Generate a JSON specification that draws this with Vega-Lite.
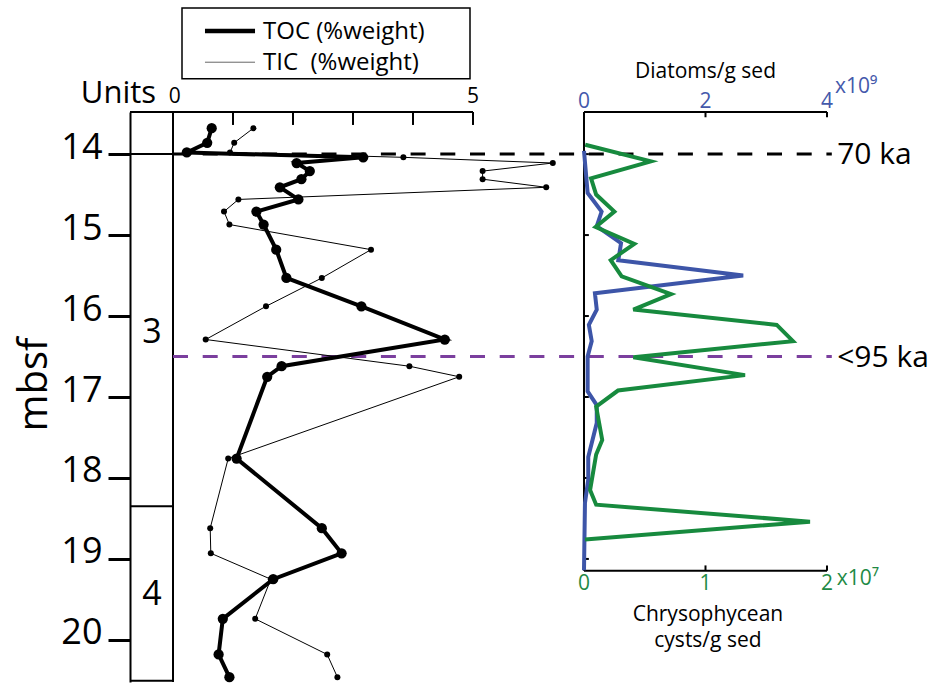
{
  "$schema": "https://vega.github.io/schema/vega-lite/v6.json",
  "background": "white",
  "autosize": "none",
  "padding": {"left": 130, "top": 112, "right": 106, "bottom": 4},
  "width": 697,
  "height": 570,
  "config": {"view": {"stroke": null}, "font": "Open Sans", "text": {"font": "Open Sans"}},
  "datasets": {
    "carbon": [
      {"depth": 13.68, "TOC": 0.645, "TIC": 1.34},
      {"depth": 13.86, "TOC": 0.57, "TIC": 1.02},
      {"depth": 13.98, "TOC": 0.23, "TIC": 0.95},
      {"depth": 14.04, "TOC": 3.17, "TIC": 3.84},
      {"depth": 14.11, "TOC": 2.06, "TIC": 6.33},
      {"depth": 14.21, "TOC": 2.28, "TIC": 5.16},
      {"depth": 14.31, "TOC": 2.14, "TIC": 5.16},
      {"depth": 14.41, "TOC": 1.78, "TIC": 6.22},
      {"depth": 14.56, "TOC": 2.09, "TIC": 1.09},
      {"depth": 14.71, "TOC": 1.39, "TIC": 0.85},
      {"depth": 14.87, "TOC": 1.51, "TIC": 0.94},
      {"depth": 15.18, "TOC": 1.72, "TIC": 3.30},
      {"depth": 15.53, "TOC": 1.89, "TIC": 2.48},
      {"depth": 15.88, "TOC": 3.14, "TIC": 1.55},
      {"depth": 16.29, "TOC": 4.53, "TIC": 0.545},
      {"depth": 16.62, "TOC": 1.81, "TIC": 3.94},
      {"depth": 16.75, "TOC": 1.57, "TIC": 4.77},
      {"depth": 17.76, "TOC": 1.06, "TIC": 0.92},
      {"depth": 18.62, "TOC": 2.48, "TIC": 0.62},
      {"depth": 18.93, "TOC": 2.81, "TIC": 0.63},
      {"depth": 19.25, "TOC": 1.67, "TIC": 1.63},
      {"depth": 19.74, "TOC": 0.83, "TIC": 1.37},
      {"depth": 20.18, "TOC": 0.76, "TIC": 2.57},
      {"depth": 20.46, "TOC": 0.94, "TIC": 2.74}
    ],
    "diatoms": [
      {"depth": 13.96, "value": 0.0},
      {"depth": 14.48, "value": 0.06},
      {"depth": 14.71, "value": 0.29},
      {"depth": 14.89, "value": 0.21},
      {"depth": 15.10, "value": 0.61},
      {"depth": 15.31, "value": 0.565},
      {"depth": 15.50, "value": 2.62},
      {"depth": 15.72, "value": 0.18},
      {"depth": 15.92, "value": 0.21},
      {"depth": 16.11, "value": 0.08},
      {"depth": 16.31, "value": 0.127},
      {"depth": 16.50, "value": 0.06},
      {"depth": 16.93, "value": 0.06},
      {"depth": 17.10, "value": 0.21},
      {"depth": 17.32, "value": 0.21},
      {"depth": 17.74, "value": 0.07},
      {"depth": 18.02, "value": 0.07},
      {"depth": 18.31, "value": 0.016},
      {"depth": 19.14, "value": 0.0}
    ],
    "chryso": [
      {"depth": 13.885, "value": 0.01},
      {"depth": 14.09, "value": 0.55},
      {"depth": 14.30, "value": 0.058},
      {"depth": 14.50, "value": 0.10},
      {"depth": 14.71, "value": 0.25},
      {"depth": 14.90, "value": 0.096},
      {"depth": 15.11, "value": 0.414},
      {"depth": 15.31, "value": 0.22},
      {"depth": 15.51, "value": 0.31},
      {"depth": 15.73, "value": 0.716},
      {"depth": 15.92, "value": 0.406},
      {"depth": 16.11, "value": 1.586},
      {"depth": 16.31, "value": 1.72},
      {"depth": 16.51, "value": 0.406},
      {"depth": 16.73, "value": 1.325},
      {"depth": 16.92, "value": 0.28},
      {"depth": 17.12, "value": 0.10},
      {"depth": 17.53, "value": 0.15},
      {"depth": 17.71, "value": 0.10},
      {"depth": 18.15, "value": 0.05},
      {"depth": 18.33, "value": 0.10},
      {"depth": 18.54, "value": 1.86},
      {"depth": 18.76, "value": 0.008}
    ],
    "frameL": [
      {"x": -0.7167, "x2": 5, "depth": 13.48, "depth2": 13.48},
      {"x": 0, "x2": 0, "depth": 13.48, "depth2": 20.52},
      {"x": -0.7167, "x2": 0, "depth": 14.0, "depth2": 14.0},
      {"x": -0.7167, "x2": 0, "depth": 18.35, "depth2": 18.35},
      {"x": -0.7167, "x2": 0, "depth": 20.505, "depth2": 20.505},
      {"x": 1, "x2": 1, "depth": 13.48, "depth2": 13.64},
      {"x": 2, "x2": 2, "depth": 13.48, "depth2": 13.64},
      {"x": 3, "x2": 3, "depth": 13.48, "depth2": 13.64},
      {"x": 4, "x2": 4, "depth": 13.48, "depth2": 13.64},
      {"x": 5, "x2": 5, "depth": 13.48, "depth2": 13.64}
    ],
    "frameR": [
      {"x": 0, "x2": 0, "depth": 13.48, "depth2": 19.145},
      {"x": 0, "x2": 4, "depth": 13.48, "depth2": 13.48},
      {"x": 0, "x2": 4, "depth": 19.145, "depth2": 19.145},
      {"x": 2, "x2": 2, "depth": 13.48, "depth2": 13.545},
      {"x": 4, "x2": 4, "depth": 13.48, "depth2": 13.545},
      {"x": 2, "x2": 2, "depth": 19.08, "depth2": 19.145},
      {"x": 4, "x2": 4, "depth": 19.08, "depth2": 19.145},
      {"x": 0, "x2": 0.08, "depth": 14, "depth2": 14},
      {"x": 0, "x2": 0.08, "depth": 15, "depth2": 15},
      {"x": 0, "x2": 0.08, "depth": 16, "depth2": 16},
      {"x": 0, "x2": 0.08, "depth": 17, "depth2": 17},
      {"x": 0, "x2": 0.08, "depth": 18, "depth2": 18},
      {"x": 0, "x2": 0.08, "depth": 19, "depth2": 19}
    ],
    "events": [
      {"event": "70 ka", "depth": 14.0, "x": 0, "x2": 10.98, "xl": 11.07},
      {"event": "<95 ka", "depth": 16.5, "x": 0, "x2": 10.98, "xl": 11.07}
    ],
    "legendBox": [{"x": 0.15, "x2": 4.95, "depth": 12.196, "depth2": 13.07}],
    "legendRows": [
      {"series": "TOC (%weight)", "x": 0.533, "x2": 1.367, "xt": 1.5, "depth": 12.48},
      {"series": "TIC\u00a0\u00a0(%weight)", "x": 0.533, "x2": 1.367, "xt": 1.5, "depth": 12.865}
    ]
  },
  "resolve": {"scale": {"x": "independent"}},
  "layer": [
    {
      "data": {"name": "frameL"},
      "mark": {"type": "rule", "stroke": "black", "strokeWidth": 2},
      "encoding": {
        "x": {"field": "x", "type": "quantitative", "scale": {"domain": [-0.7167, 10.9], "nice": false, "zero": false}, "axis": null},
        "x2": {"field": "x2"},
        "y": {"field": "depth", "type": "quantitative", "scale": {"domain": [13.48, 20.52], "reverse": true, "nice": false, "zero": false},
          "axis": {
            "values": [14, 14.5, 15, 15.5, 16, 16.5, 17, 17.5, 18, 18.5, 19, 19.5, 20],
            "format": "d",
            "labelExpr": "datum.value % 1 === 0 ? datum.label : ''",
            "tickSize": {"condition": {"test": "datum.value % 1 === 0", "value": 22}, "value": 15},
            "tickWidth": 3, "tickColor": "black", "domainColor": "black", "domainWidth": 2,
            "labelFontSize": 36, "labelFont": "Open Sans", "labelColor": "black", "labelPadding": 6, "labelOffset": -7,
            "grid": false,
            "title": "mbsf", "titleFontSize": 40, "titleFont": "Open Sans", "titleFontWeight": "normal", "titleColor": "black",
            "titleAngle": -90, "titleX": -84, "titleY": 272, "titleAlign": "center", "titleBaseline": "alphabetic"
          }},
        "y2": {"field": "depth2"}
      }
    },
    {
      "data": {"name": "events"},
      "mark": {"type": "rule", "strokeWidth": 3, "strokeDash": [15, 14.7]},
      "encoding": {
        "x": {"field": "x", "type": "quantitative", "scale": {"domain": [-0.7167, 10.9], "nice": false, "zero": false}, "axis": null},
        "x2": {"field": "x2"},
        "y": {"field": "depth", "type": "quantitative", "scale": {"domain": [13.48, 20.52], "reverse": true, "nice": false, "zero": false}},
        "color": {"field": "event", "type": "nominal", "scale": {"domain": ["70 ka", "<95 ka"], "range": ["#000000", "#7b3f9e"]}, "legend": null}
      }
    },
    {
      "data": {"name": "events"},
      "mark": {"type": "text", "align": "left", "baseline": "middle", "fontSize": 30, "color": "black", "dy": 1},
      "encoding": {
        "x": {"field": "xl", "type": "quantitative", "scale": {"domain": [-0.7167, 10.9], "nice": false, "zero": false}, "axis": null},
        "y": {"field": "depth", "type": "quantitative", "scale": {"domain": [13.48, 20.52], "reverse": true, "nice": false, "zero": false}},
        "text": {"field": "event"}
      }
    },
    {
      "data": {"name": "carbon"},
      "mark": {"type": "line", "color": "black", "strokeWidth": 1},
      "encoding": {
        "x": {"field": "TIC", "type": "quantitative", "scale": {"domain": [-0.7167, 10.9], "nice": false, "zero": false}, "axis": null},
        "y": {"field": "depth", "type": "quantitative", "scale": {"domain": [13.48, 20.52], "reverse": true, "nice": false, "zero": false}},
        "order": {"field": "depth", "type": "quantitative"}
      }
    },
    {
      "data": {"name": "carbon"},
      "mark": {"type": "circle", "color": "black", "opacity": 1, "size": 36},
      "encoding": {
        "x": {"field": "TIC", "type": "quantitative", "scale": {"domain": [-0.7167, 10.9], "nice": false, "zero": false}, "axis": null},
        "y": {"field": "depth", "type": "quantitative", "scale": {"domain": [13.48, 20.52], "reverse": true, "nice": false, "zero": false}}
      }
    },
    {
      "data": {"name": "carbon"},
      "mark": {"type": "line", "color": "black", "strokeWidth": 4},
      "encoding": {
        "x": {"field": "TOC", "type": "quantitative", "scale": {"domain": [-0.7167, 10.9], "nice": false, "zero": false}, "axis": null},
        "y": {"field": "depth", "type": "quantitative", "scale": {"domain": [13.48, 20.52], "reverse": true, "nice": false, "zero": false}},
        "order": {"field": "depth", "type": "quantitative"}
      }
    },
    {
      "data": {"name": "carbon"},
      "mark": {"type": "circle", "color": "black", "opacity": 1, "size": 105},
      "encoding": {
        "x": {"field": "TOC", "type": "quantitative", "scale": {"domain": [-0.7167, 10.9], "nice": false, "zero": false}, "axis": null},
        "y": {"field": "depth", "type": "quantitative", "scale": {"domain": [13.48, 20.52], "reverse": true, "nice": false, "zero": false}}
      }
    },
    {
      "data": {"name": "frameR"},
      "mark": {"type": "rule", "stroke": "black", "strokeWidth": 2},
      "encoding": {
        "x": {"field": "x", "type": "quantitative", "scale": {"domain": [-7.473, 4], "nice": false, "zero": false}, "axis": null},
        "x2": {"field": "x2"},
        "y": {"field": "depth", "type": "quantitative", "scale": {"domain": [13.48, 20.52], "reverse": true, "nice": false, "zero": false}},
        "y2": {"field": "depth2"}
      }
    },
    {
      "data": {"name": "diatoms"},
      "mark": {"type": "line", "color": "#3d55a8", "strokeWidth": 4},
      "encoding": {
        "x": {"field": "value", "type": "quantitative", "scale": {"domain": [-7.473, 4], "nice": false, "zero": false}, "axis": null},
        "y": {"field": "depth", "type": "quantitative", "scale": {"domain": [13.48, 20.52], "reverse": true, "nice": false, "zero": false}},
        "order": {"field": "depth", "type": "quantitative"}
      }
    },
    {
      "data": {"name": "chryso"},
      "mark": {"type": "line", "color": "#178a3e", "strokeWidth": 4},
      "encoding": {
        "x": {"field": "value", "type": "quantitative", "scale": {"domain": [-3.7366, 2], "nice": false, "zero": false}, "axis": null},
        "y": {"field": "depth", "type": "quantitative", "scale": {"domain": [13.48, 20.52], "reverse": true, "nice": false, "zero": false}},
        "order": {"field": "depth", "type": "quantitative"}
      }
    },
    {
      "data": {"values": [{"t": "0", "x": 0, "depth": 13.431}, {"t": "2", "x": 2, "depth": 13.431}, {"t": "4", "x": 4, "depth": 13.431}]},
      "mark": {"type": "text", "align": "center", "baseline": "alphabetic", "fontSize": 21, "color": "#4459ab"},
      "encoding": {
        "x": {"field": "x", "type": "quantitative", "scale": {"domain": [-7.473, 4], "nice": false, "zero": false}, "axis": null},
        "y": {"field": "depth", "type": "quantitative", "scale": {"domain": [13.48, 20.52], "reverse": true, "nice": false, "zero": false}},
        "text": {"field": "t"}
      }
    },
    {
      "data": {"values": [{"t": "x10\u2079", "x": 4.13, "depth": 13.245}]},
      "mark": {"type": "text", "align": "left", "baseline": "alphabetic", "fontSize": 21, "color": "#4459ab"},
      "encoding": {
        "x": {"field": "x", "type": "quantitative", "scale": {"domain": [-7.473, 4], "nice": false, "zero": false}, "axis": null},
        "y": {"field": "depth", "type": "quantitative", "scale": {"domain": [13.48, 20.52], "reverse": true, "nice": false, "zero": false}},
        "text": {"field": "t"}
      }
    },
    {
      "data": {"values": [{"t": "Diatoms/g sed", "x": 2.0, "depth": 13.06}]},
      "mark": {"type": "text", "align": "center", "baseline": "alphabetic", "fontSize": 21, "color": "black"},
      "encoding": {
        "x": {"field": "x", "type": "quantitative", "scale": {"domain": [-7.473, 4], "nice": false, "zero": false}, "axis": null},
        "y": {"field": "depth", "type": "quantitative", "scale": {"domain": [13.48, 20.52], "reverse": true, "nice": false, "zero": false}},
        "text": {"field": "t"}
      }
    },
    {
      "data": {"values": [{"t": "0", "x": 0, "depth": 19.383}, {"t": "1", "x": 1, "depth": 19.383}, {"t": "2", "x": 2, "depth": 19.383}]},
      "mark": {"type": "text", "align": "center", "baseline": "alphabetic", "fontSize": 21, "color": "#1f8a45"},
      "encoding": {
        "x": {"field": "x", "type": "quantitative", "scale": {"domain": [-3.7366, 2], "nice": false, "zero": false}, "axis": null},
        "y": {"field": "depth", "type": "quantitative", "scale": {"domain": [13.48, 20.52], "reverse": true, "nice": false, "zero": false}},
        "text": {"field": "t"}
      }
    },
    {
      "data": {"values": [{"t": "x10\u2077", "x": 2.08, "depth": 19.32}]},
      "mark": {"type": "text", "align": "left", "baseline": "alphabetic", "fontSize": 21, "color": "#1f8a45"},
      "encoding": {
        "x": {"field": "x", "type": "quantitative", "scale": {"domain": [-3.7366, 2], "nice": false, "zero": false}, "axis": null},
        "y": {"field": "depth", "type": "quantitative", "scale": {"domain": [13.48, 20.52], "reverse": true, "nice": false, "zero": false}},
        "text": {"field": "t"}
      }
    },
    {
      "data": {"values": [{"t": "Chrysophycean", "x": 1.02, "depth": 19.766}, {"t": "cysts/g sed", "x": 1.02, "depth": 20.09}]},
      "mark": {"type": "text", "align": "center", "baseline": "alphabetic", "fontSize": 21, "color": "black"},
      "encoding": {
        "x": {"field": "x", "type": "quantitative", "scale": {"domain": [-3.7366, 2], "nice": false, "zero": false}, "axis": null},
        "y": {"field": "depth", "type": "quantitative", "scale": {"domain": [13.48, 20.52], "reverse": true, "nice": false, "zero": false}},
        "text": {"field": "t"}
      }
    },
    {
      "data": {"values": [{"t": "0", "x": 0.03, "depth": 13.369}, {"t": "5", "x": 5, "depth": 13.369}]},
      "mark": {"type": "text", "align": "center", "baseline": "alphabetic", "fontSize": 21, "color": "black"},
      "encoding": {
        "x": {"field": "x", "type": "quantitative", "scale": {"domain": [-0.7167, 10.9], "nice": false, "zero": false}, "axis": null},
        "y": {"field": "depth", "type": "quantitative", "scale": {"domain": [13.48, 20.52], "reverse": true, "nice": false, "zero": false}},
        "text": {"field": "t"}
      }
    },
    {
      "data": {"values": [{"t": "Units", "x": -0.91, "depth": 13.369}]},
      "mark": {"type": "text", "align": "center", "baseline": "alphabetic", "fontSize": 31, "color": "black"},
      "encoding": {
        "x": {"field": "x", "type": "quantitative", "scale": {"domain": [-0.7167, 10.9], "nice": false, "zero": false}, "axis": null},
        "y": {"field": "depth", "type": "quantitative", "scale": {"domain": [13.48, 20.52], "reverse": true, "nice": false, "zero": false}},
        "text": {"field": "t"}
      }
    },
    {
      "data": {"values": [{"t": "3", "x": -0.35, "depth": 16.209}, {"t": "4", "x": -0.35, "depth": 19.445}]},
      "mark": {"type": "text", "align": "center", "baseline": "middle", "fontSize": 34, "color": "black"},
      "encoding": {
        "x": {"field": "x", "type": "quantitative", "scale": {"domain": [-0.7167, 10.9], "nice": false, "zero": false}, "axis": null},
        "y": {"field": "depth", "type": "quantitative", "scale": {"domain": [13.48, 20.52], "reverse": true, "nice": false, "zero": false}},
        "text": {"field": "t"}
      }
    },
    {
      "data": {"name": "legendBox"},
      "mark": {"type": "rect", "fill": "white", "stroke": "black", "strokeWidth": 1.5},
      "encoding": {
        "x": {"field": "x", "type": "quantitative", "scale": {"domain": [-0.7167, 10.9], "nice": false, "zero": false}, "axis": null},
        "x2": {"field": "x2"},
        "y": {"field": "depth", "type": "quantitative", "scale": {"domain": [13.48, 20.52], "reverse": true, "nice": false, "zero": false}},
        "y2": {"field": "depth2"}
      }
    },
    {
      "data": {"name": "legendRows"},
      "transform": [{"filter": "datum.series === 'TOC (%weight)'"}],
      "mark": {"type": "rule", "color": "black", "strokeWidth": 4.5},
      "encoding": {
        "x": {"field": "x", "type": "quantitative", "scale": {"domain": [-0.7167, 10.9], "nice": false, "zero": false}, "axis": null},
        "x2": {"field": "x2"},
        "y": {"field": "depth", "type": "quantitative", "scale": {"domain": [13.48, 20.52], "reverse": true, "nice": false, "zero": false}}
      }
    },
    {
      "data": {"name": "legendRows"},
      "transform": [{"filter": "datum.series !== 'TOC (%weight)'"}],
      "mark": {"type": "rule", "color": "#666666", "strokeWidth": 1},
      "encoding": {
        "x": {"field": "x", "type": "quantitative", "scale": {"domain": [-0.7167, 10.9], "nice": false, "zero": false}, "axis": null},
        "x2": {"field": "x2"},
        "y": {"field": "depth", "type": "quantitative", "scale": {"domain": [13.48, 20.52], "reverse": true, "nice": false, "zero": false}}
      }
    },
    {
      "data": {"name": "legendRows"},
      "mark": {"type": "text", "align": "left", "baseline": "middle", "fontSize": 24, "color": "black", "dy": 1},
      "encoding": {
        "x": {"field": "xt", "type": "quantitative", "scale": {"domain": [-0.7167, 10.9], "nice": false, "zero": false}, "axis": null},
        "y": {"field": "depth", "type": "quantitative", "scale": {"domain": [13.48, 20.52], "reverse": true, "nice": false, "zero": false}},
        "text": {"field": "series"}
      }
    }
  ]
}
